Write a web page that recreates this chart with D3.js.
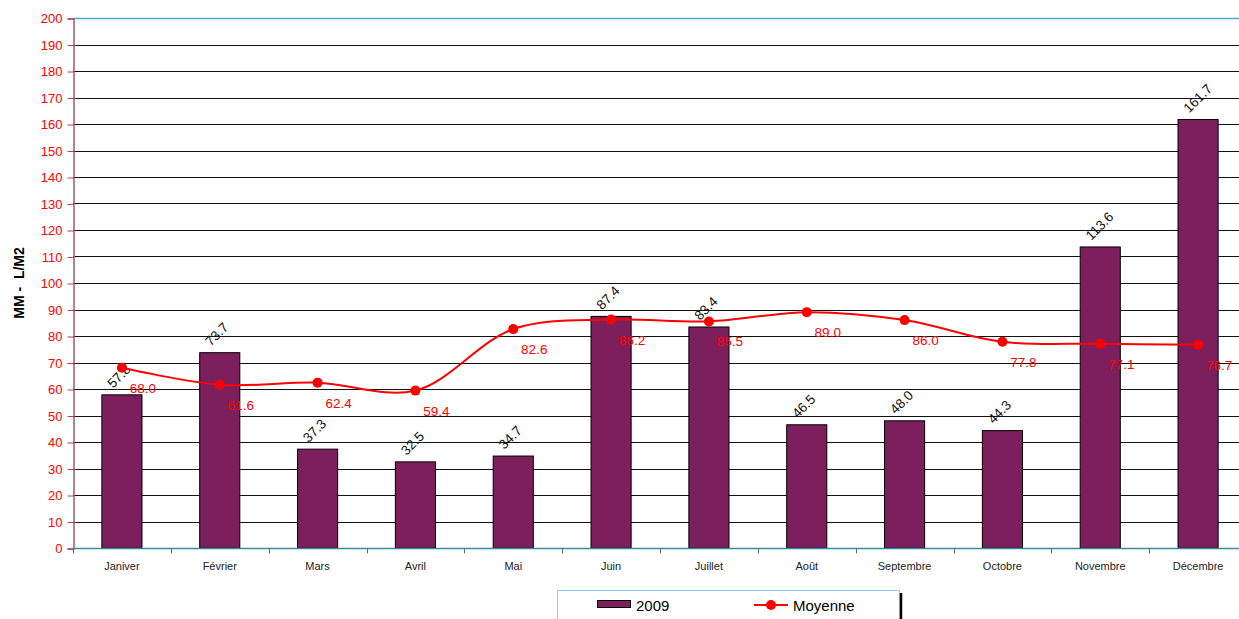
<!DOCTYPE html>
<html>
<head>
<meta charset="utf-8">
<script src="https://cdn.jsdelivr.net/npm/d3@7"></script>
<style>
  body { margin: 0; background: #fff; overflow: hidden; }
  svg { font-family: "Liberation Sans", Arial, sans-serif; display: block; }
</style>
</head>
<body>
<div id="svg"></div>
<script>
(() => {
    const months = ["Janiver", "Février", "Mars", "Avril", "Mai", "Juin", "Juillet", "Août", "Septembre", "Octobre", "Novembre", "Décembre"];
    const rain2009 = [57.8, 73.7, 37.3, 32.5, 34.7, 87.4, 83.4, 46.5, 48.0, 44.3, 113.6, 161.7];
    const moyenne = [68.0, 61.6, 62.4, 59.4, 82.6, 86.2, 85.5, 89.0, 86.0, 77.8, 77.1, 76.7];
    const yTicks = d3.range(0, 201, 10);

    const width = 1239,
        height = 619,
        plotRight = 1247, // plot area runs slightly past the window edge
        margin = { top: 18, bottom: 71, left: 73 };

    const svg = d3.select("#svg")
        .append("svg")
        .attr("width", width)
        .attr("height", height);

    const xScale = d3.scaleBand()
        .domain(months)
        .range([margin.left, plotRight])
        .paddingInner(0.59)
        .paddingOuter(0.295);

    const yScale = d3.scaleLinear()
        .domain([0, 200])
        .range([height - margin.bottom, margin.top]);

    const cx = m => xScale(m) + xScale.bandwidth() / 2;
    const step = xScale.step();

    // gridlines
    svg.append("g")
        .selectAll("line")
        .data(yTicks.filter(t => t > 0 && t < 200))
        .join("line")
        .attr("x1", margin.left)
        .attr("x2", plotRight)
        .attr("y1", d => Math.round(yScale(d)) + 0.5)
        .attr("y2", d => Math.round(yScale(d)) + 0.5)
        .attr("stroke", "#111")
        .attr("stroke-width", 1);

    svg.append("line")
        .attr("x1", margin.left).attr("x2", plotRight)
        .attr("y1", Math.round(yScale(200)) + 0.5).attr("y2", Math.round(yScale(200)) + 0.5)
        .attr("stroke", "#4bacc6").attr("stroke-width", 1.5);

    // y axis
    const yAxis = svg.append("g")
        .attr("transform", `translate(${margin.left + 0.5},0.5)`)
        .call(d3.axisLeft(yScale).tickValues(yTicks).tickSize(6).tickPadding(5).tickFormat(d3.format("d")));
    yAxis.select(".domain").attr("stroke", "#9c5a78").attr("stroke-width", 1.5);
    yAxis.selectAll(".tick line").attr("stroke", "#c0394f");
    yAxis.selectAll(".tick text").attr("fill", "#ff0000").attr("font-size", 13);

    // bars
    svg.append("g")
        .selectAll("rect")
        .data(rain2009)
        .join("rect")
        .attr("x", (d, i) => xScale(months[i]))
        .attr("y", d => yScale(d))
        .attr("width", xScale.bandwidth())
        .attr("height", d => yScale(0) - yScale(d))
        .attr("fill", "#7e1f5d")
        .attr("stroke", "#000")
        .attr("stroke-width", 1);

    // x axis
    const x0 = Math.round(yScale(0)) + 0.5;
    svg.append("line")
        .attr("x1", margin.left).attr("x2", plotRight)
        .attr("y1", x0).attr("y2", x0)
        .attr("stroke", "#3a8a9a").attr("stroke-width", 1.5);
    svg.append("g")
        .selectAll("line")
        .data(d3.range(months.length + 1))
        .join("line")
        .attr("x1", i => Math.round(margin.left + i * step) + 0.5)
        .attr("x2", i => Math.round(margin.left + i * step) + 0.5)
        .attr("y1", x0)
        .attr("y2", x0 + 5)
        .attr("stroke", "#666");
    svg.append("g")
        .selectAll("text")
        .data(months)
        .join("text")
        .attr("x", d => cx(d))
        .attr("y", yScale(0) + 22)
        .attr("text-anchor", "middle")
        .attr("font-size", 11)
        .attr("fill", "#222")
        .text(d => d);

    // bar value labels
    svg.append("g")
        .selectAll("text")
        .data(rain2009)
        .join("text")
        .attr("transform", (d, i) => `translate(${cx(months[i]) - 9},${yScale(d) - 6}) rotate(-45)`)
        .attr("font-size", 13.5)
        .attr("fill", "#111")
        .text(d => d.toFixed(1));

    // moyenne line
    const line = d3.line()
        .x((d, i) => cx(months[i]))
        .y(d => yScale(d))
        .curve(d3.curveCatmullRom.alpha(0.5));

    svg.append("path")
        .datum(moyenne)
        .attr("d", line)
        .attr("fill", "none")
        .attr("stroke", "#ff0000")
        .attr("stroke-width", 2);

    svg.append("g")
        .selectAll("circle")
        .data(moyenne)
        .join("circle")
        .attr("cx", (d, i) => cx(months[i]))
        .attr("cy", d => yScale(d))
        .attr("r", 5)
        .attr("fill", "#ff0000");

    svg.append("g")
        .selectAll("text")
        .data(moyenne)
        .join("text")
        .attr("x", (d, i) => cx(months[i]) + 21)
        .attr("y", d => yScale(d) + 25)
        .attr("text-anchor", "middle")
        .attr("font-size", 13.5)
        .attr("fill", "#ff0000")
        .text(d => d.toFixed(1));

    // y title
    svg.append("text")
        .attr("transform", `translate(24,${(yScale(0) + yScale(200)) / 2}) rotate(-90)`)
        .attr("text-anchor", "middle")
        .attr("font-size", 14)
        .attr("font-weight", "bold")
        .attr("xml:space", "preserve")
        .text("MM -  L/M2");

    // legend
    const lg = svg.append("g").attr("transform", "translate(557,590)");
    lg.append("rect")
        .attr("x", 0.5).attr("y", 0.5)
        .attr("width", 342).attr("height", 40)
        .attr("fill", "#fff")
        .attr("stroke", "#9cc8ee");
    lg.append("line")
        .attr("x1", 344).attr("x2", 344)
        .attr("y1", 3).attr("y2", 40)
        .attr("stroke", "#000").attr("stroke-width", 2.5);
    lg.append("rect")
        .attr("x", 40.5).attr("y", 10.5)
        .attr("width", 33).attr("height", 7)
        .attr("fill", "#7e1f5d").attr("stroke", "#000");
    lg.append("text")
        .attr("x", 79).attr("y", 21)
        .attr("font-size", 15)
        .text("2009");
    lg.append("line")
        .attr("x1", 197).attr("x2", 231)
        .attr("y1", 15).attr("y2", 15)
        .attr("stroke", "#ff0000").attr("stroke-width", 2);
    lg.append("circle")
        .attr("cx", 214).attr("cy", 15).attr("r", 5)
        .attr("fill", "#ff0000");
    lg.append("text")
        .attr("x", 236).attr("y", 21)
        .attr("font-size", 15)
        .text("Moyenne");
})();
</script>
</body>
</html>
